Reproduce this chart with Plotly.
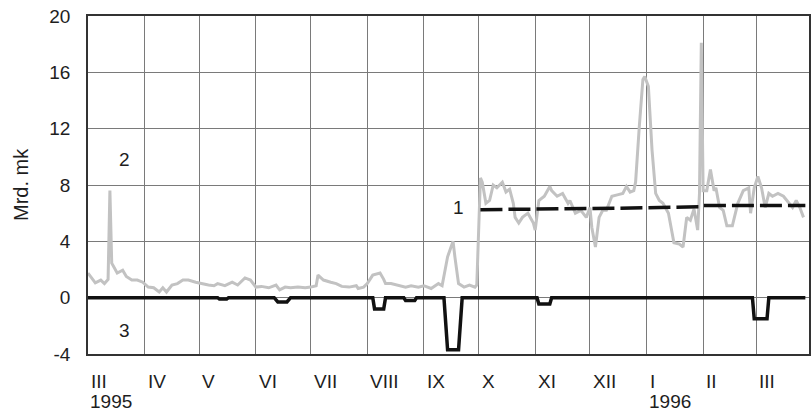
import plotly.graph_objects as go

# ---- data ----
s2_dates = [
    "1995-03-01", "1995-03-05", "1995-03-08", "1995-03-10", "1995-03-12", "1995-03-13", "1995-03-14",
    "1995-03-17", "1995-03-20", "1995-03-22", "1995-03-25", "1995-03-28", "1995-03-31",
    "1995-04-03", "1995-04-06", "1995-04-09", "1995-04-11", "1995-04-13", "1995-04-16", "1995-04-19",
    "1995-04-22", "1995-04-25", "1995-04-29",
    "1995-05-02", "1995-05-06", "1995-05-09", "1995-05-11", "1995-05-15", "1995-05-19", "1995-05-22",
    "1995-05-26", "1995-05-29",
    "1995-06-01", "1995-06-04", "1995-06-08", "1995-06-12", "1995-06-14", "1995-06-17", "1995-06-20",
    "1995-06-24", "1995-06-28",
    "1995-07-01", "1995-07-04", "1995-07-05", "1995-07-08", "1995-07-12", "1995-07-15", "1995-07-18",
    "1995-07-22", "1995-07-26", "1995-07-27", "1995-07-30",
    "1995-08-01", "1995-08-04", "1995-08-08", "1995-08-10", "1995-08-11", "1995-08-14", "1995-08-18",
    "1995-08-22", "1995-08-25", "1995-08-29",
    "1995-09-01", "1995-09-05", "1995-09-09", "1995-09-11", "1995-09-14", "1995-09-17", "1995-09-18",
    "1995-09-20", "1995-09-23", "1995-09-26", "1995-09-29", "1995-09-30",
    "1995-10-02", "1995-10-03", "1995-10-05", "1995-10-07", "1995-10-09", "1995-10-11", "1995-10-14",
    "1995-10-16", "1995-10-18", "1995-10-20", "1995-10-21", "1995-10-23", "1995-10-25", "1995-10-28",
    "1995-10-31",
    "1995-11-01", "1995-11-03", "1995-11-06", "1995-11-09", "1995-11-10", "1995-11-13", "1995-11-16",
    "1995-11-19", "1995-11-20", "1995-11-23", "1995-11-26", "1995-11-29",
    "1995-12-01", "1995-12-02", "1995-12-04", "1995-12-06", "1995-12-08", "1995-12-10", "1995-12-13",
    "1995-12-16", "1995-12-19", "1995-12-21", "1995-12-23", "1995-12-25", "1995-12-26", "1995-12-28",
    "1995-12-30", "1995-12-31",
    "1996-01-02", "1996-01-04", "1996-01-06", "1996-01-08", "1996-01-10", "1996-01-13", "1996-01-15",
    "1996-01-16", "1996-01-19", "1996-01-21", "1996-01-23", "1996-01-25", "1996-01-27", "1996-01-29",
    "1996-01-30", "1996-01-31",
    "1996-02-01", "1996-02-03", "1996-02-05", "1996-02-07", "1996-02-08", "1996-02-10", "1996-02-12",
    "1996-02-14", "1996-02-17", "1996-02-18", "1996-02-20", "1996-02-23", "1996-02-26", "1996-02-27",
    "1996-02-29",
    "1996-03-02", "1996-03-04", "1996-03-06", "1996-03-08", "1996-03-10", "1996-03-13", "1996-03-16",
    "1996-03-19", "1996-03-21", "1996-03-23", "1996-03-25", "1996-03-27",
]
s2_values = [
    1.75, 1.05, 1.25, 1.0, 1.3, 7.6, 2.45,
    1.75, 1.95, 1.5, 1.25, 1.25, 1.1,
    0.75, 0.7, 0.4, 0.7, 0.4, 0.9, 1.0,
    1.25, 1.25, 1.1,
    1.0, 0.9, 0.85, 1.0, 0.85, 1.1, 0.9,
    1.4, 1.25,
    0.75, 0.8, 0.7, 0.9, 0.55, 0.75, 0.7,
    0.75, 0.7,
    0.75, 0.85, 1.6, 1.25, 1.1, 1.0, 0.8,
    0.75, 0.85, 0.65, 0.75,
    1.0, 1.6, 1.75, 1.3, 1.0, 1.0, 0.85,
    0.75, 0.85, 0.75,
    0.85, 0.65, 1.0, 0.85, 2.9, 4.0, 2.9,
    1.0, 0.75, 0.9, 0.75, 0.9,
    8.5, 8.2, 6.7, 6.9, 8.0, 7.8, 8.2,
    7.5, 7.7, 6.7, 5.7, 5.3, 5.7, 6.0,
    5.3,
    4.8, 6.9, 7.2, 7.9, 7.6, 7.2, 7.4,
    6.7, 6.9, 6.0, 6.2, 5.7,
    6.4, 5.0, 3.6, 5.7, 6.2, 6.2, 7.2,
    7.3, 7.4, 7.9, 7.5, 7.6, 8.2, 12.1,
    15.5, 15.7,
    15.0, 10.5, 7.4, 6.9, 6.7, 6.0, 4.6,
    3.9, 3.8, 3.6, 5.7, 5.5, 6.3, 4.8,
    7.4, 18.1,
    7.6, 7.6, 9.1, 7.6, 7.8, 6.4, 6.2,
    5.1, 5.1, 5.7, 6.7, 7.6, 7.8, 6.0,
    7.8,
    8.6, 7.8, 6.4, 7.4, 7.2, 7.4, 7.2,
    6.7, 6.4, 6.9, 6.4, 5.7,
]

s3_dates = [
    "1995-03-01", "1995-05-11", "1995-05-12", "1995-05-16", "1995-05-17",
    "1995-06-11", "1995-06-13", "1995-06-18", "1995-06-20",
    "1995-08-04", "1995-08-05", "1995-08-10", "1995-08-11",
    "1995-08-21", "1995-08-22", "1995-08-27", "1995-08-28",
    "1995-09-12", "1995-09-14", "1995-09-20", "1995-09-22",
    "1995-11-02", "1995-11-03", "1995-11-09", "1995-11-10",
    "1996-02-28", "1996-02-29", "1996-03-07", "1996-03-08",
    "1996-03-28",
]
s3_values = [
    0.0, 0.0, -0.1, -0.1, 0.0,
    0.0, -0.3, -0.3, 0.0,
    0.0, -0.8, -0.8, 0.0,
    0.0, -0.2, -0.2, 0.0,
    0.0, -3.7, -3.7, 0.0,
    0.0, -0.45, -0.45, 0.0,
    0.0, -1.5, -1.5, 0.0,
    0.0,
]

s1_dates = ["1995-10-02", "1995-11-15", "1995-12-15", "1996-01-15", "1996-01-31", "1996-02-01", "1996-03-28"]
s1_values = [6.25, 6.28, 6.35, 6.42, 6.45, 6.55, 6.55]

month_starts = [
    "1995-03-01", "1995-04-01", "1995-05-01", "1995-06-01", "1995-07-01", "1995-08-01", "1995-09-01",
    "1995-10-01", "1995-11-01", "1995-12-01", "1996-01-01", "1996-02-01", "1996-03-01",
]
month_labels = ["III", "IV", "V", "VI", "VII", "VIII", "IX", "X", "XI", "XII", "I", "II", "III"]
year_labels = {"1995-03-01": "1995", "1996-01-01": "1996"}

y_ticks = [-4, 0, 4, 8, 12, 16, 20]
y_tick_text = ["-4", "0", "4", "8", "12", "16", "20"]

series_labels = [("1995-03-21", 9.8, "2"), ("1995-09-20", 6.4, "1"), ("1995-03-21", -2.3, "3")]

FONT = "Liberation Sans, Arial, sans-serif"
TXT = "#1e1e1e"

fig = go.Figure()
fig.add_trace(go.Scatter(x=s2_dates, y=s2_values, mode="lines",
                         line=dict(color="#c2c2c2", width=3), showlegend=False))
fig.add_trace(go.Scatter(x=s3_dates, y=s3_values, mode="lines",
                         line=dict(color="#111111", width=3.5), showlegend=False))
fig.add_trace(go.Scatter(x=s1_dates, y=s1_values, mode="lines",
                         line=dict(color="#111111", width=3.5, dash="22px,6px"), showlegend=False))

annotations = []
for d, lab in zip(month_starts, month_labels):
    annotations.append(dict(x=d, y=0, xref="x", yref="paper", text=lab, showarrow=False,
                            xanchor="left", yanchor="middle", yshift=-27, xshift=1,
                            font=dict(family=FONT, size=19, color=TXT)))
    if d in year_labels:
        annotations.append(dict(x=d, y=0, xref="x", yref="paper", text=year_labels[d], showarrow=False,
                                xanchor="left", yanchor="middle", yshift=-47, xshift=0,
                                font=dict(family=FONT, size=19, color=TXT)))
for d, v, t in series_labels:
    annotations.append(dict(x=d, y=v, xref="x", yref="y", text=t, showarrow=False,
                            font=dict(family=FONT, size=19, color=TXT)))
annotations.append(dict(x=0, y=0.5, xref="paper", yref="paper", text="Mrd. mk", showarrow=False,
                        xanchor="center", yanchor="middle", xshift=-67,
                        textangle=-90, font=dict(family=FONT, size=20, color=TXT)))

fig.update_layout(
    width=812, height=412,
    margin=dict(l=88, r=1, t=16, b=58),
    paper_bgcolor="white", plot_bgcolor="white",
    annotations=annotations,
    xaxis=dict(type="date", range=["1995-03-01", "1996-03-30"],
               tickvals=month_starts, showticklabels=False, ticks="",
               showgrid=True, gridcolor="#7a7a7a", gridwidth=1,
               showline=True, linecolor="#333", linewidth=1.5, mirror=True, zeroline=False),
    yaxis=dict(range=[-4, 20], tickvals=y_ticks, ticktext=y_tick_text,
               showgrid=True, gridcolor="#7a7a7a", gridwidth=1, ticks="",
               ticklabelstandoff=12,
               tickfont=dict(family=FONT, size=19, color=TXT),
               showline=True, linecolor="#333", linewidth=1.5, mirror=True, zeroline=False),
)

fig.write_html("out.html", config={"displayModeBar": False},
               post_script="document.body.style.margin='0';document.body.style.overflow='hidden';")
